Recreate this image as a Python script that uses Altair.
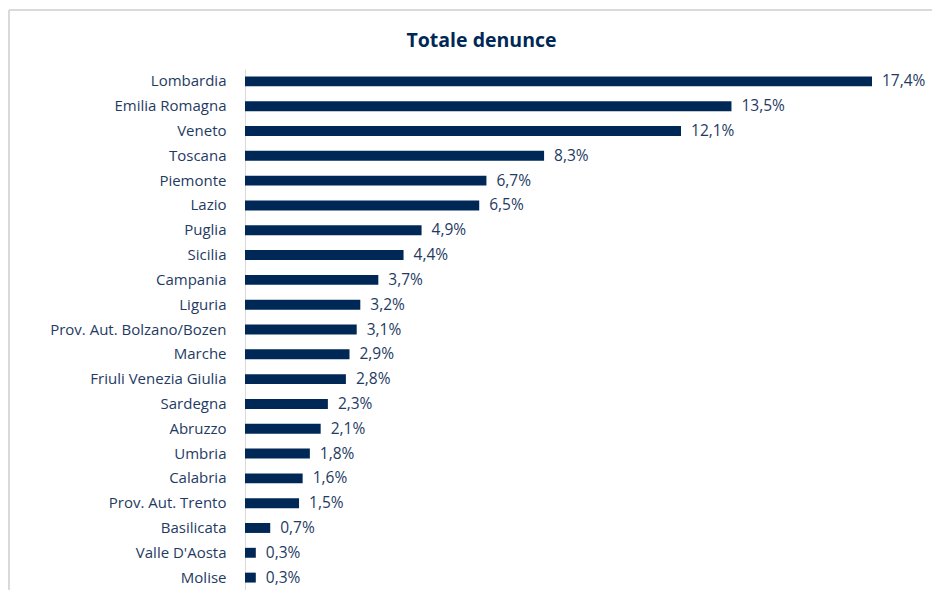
import altair as alt
import pandas as pd

regions = ["Lombardia", "Emilia Romagna", "Veneto", "Toscana", "Piemonte", "Lazio",
           "Puglia", "Sicilia", "Campania", "Liguria", "Prov. Aut. Bolzano/Bozen",
           "Marche", "Friuli Venezia Giulia", "Sardegna", "Abruzzo", "Umbria",
           "Calabria", "Prov. Aut. Trento", "Basilicata", "Valle D'Aosta", "Molise"]
values = [17.4, 13.5, 12.1, 8.3, 6.7, 6.5, 4.9, 4.4, 3.7, 3.2, 3.1,
          2.9, 2.8, 2.3, 2.1, 1.8, 1.6, 1.5, 0.7, 0.3, 0.3]

df = pd.DataFrame({"regione": regions, "valore": values})
df["etichetta"] = [f"{v:.1f}".replace(".", ",") + "%" for v in values]

NAVY = "#002856"
TEXT = "#1f3b63"
FONT = "Open Sans"

y = alt.Y("regione:N", sort=regions,
          scale=alt.Scale(paddingInner=0.6, paddingOuter=0.3),
          axis=alt.Axis(title=None, ticks=False, domain=True, domainColor="#d9d9d9",
                        labelFont=FONT, labelFontSize=15, labelColor=TEXT,
                        labelPadding=19))
x = alt.X("valore:Q", scale=alt.Scale(domain=[0, 17.4], nice=False, zero=True),
          axis=None)

bars = alt.Chart(df).mark_bar(color=NAVY).encode(x=x, y=y)
labels = alt.Chart(df).mark_text(align="left", dx=10, font=FONT, fontSize=15.5,
                                 color=TEXT).encode(x=x, y=y, text="etichetta:N")
border = alt.Chart(df).mark_rect(fill=None, stroke="#d9d9d9", strokeWidth=1).encode(
    x=alt.value(-236), x2=alt.value(900), y=alt.value(-59), y2=alt.value(700))

chart = alt.layer(border, bars, labels).properties(
    width=627, height=521,
    title=alt.TitleParams("Totale denunce", font=FONT, fontSize=19.5, fontWeight="bold",
                          color=NAVY, anchor="middle", frame="group", dx=-77,
                          offset=21, dy=63),
    padding={"left": 237, "top": 61, "right": 60, "bottom": 0},
    autosize=alt.AutoSizeParams(type="none"),
).configure_view(stroke=None)

chart.save("out.html", embed_options={"renderer": "svg", "actions": False})
